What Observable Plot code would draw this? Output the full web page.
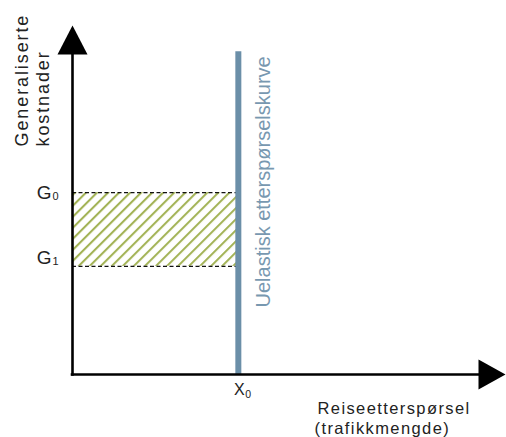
<!DOCTYPE html>
<html>
<head>
<meta charset="utf-8">
<script src="https://cdn.jsdelivr.net/npm/d3@7"></script>
<script src="https://cdn.jsdelivr.net/npm/@observablehq/plot@0.6"></script>
<style>
  html, body { margin: 0; padding: 0; background: #fff; }
  #chart svg { display: block; }
</style>
</head>
<body>
<div id="chart"></div>
<script>
// ---- data (axis units 0..100) ----
const costLabels = ["G", "G"];
const costSubs = ["0", "1"];
const costValues = [52.1, 31.0];        // G0, G1 on the cost axis
const demandLabel = ["X"];
const demandSub = ["0"];
const demandQuantity = [38.3];           // X0 (inelastic demand)
const demandTop = [92.5];                // top end of the demand curve
const axisMax = [100, 100];              // arrow tips of x and y axes
const yTitle = ["Generaliserte", "kostnader"];
const xTitle = ["Reiseetterspørsel", "(trafikkmengde)"];
const curveTitle = ["Uelastisk etterspørselskurve"];

// ---- layout ----
const W = 506, H = 437;
const xDom = [0, 100], xRange = [72, 505];
const yDom = [0, 100], yRange = [374, 25];
const pxX = (xRange[1] - xRange[0]) / (xDom[1] - xDom[0]);
const pxY = (yRange[0] - yRange[1]) / (yDom[1] - yDom[0]);

const X0 = demandQuantity[0];
const [G0, G1] = costValues;
const [xMax, yMax] = axisMax;

// arrow heads (sizes in px converted to data units)
const headLen = 29, headHalf = 15;
const yHead = [
  {x: 0, y: yMax},
  {x: -headHalf / pxX, y: yMax - headLen / pxY},
  {x: headHalf / pxX, y: yMax - headLen / pxY}
];
const xHead = [
  {x: xMax, y: 0},
  {x: xMax - 27 / pxX, y: headHalf / pxY},
  {x: xMax - 27 / pxX, y: -headHalf / pxY}
];

const font = "'Liberation Sans', Arial, Helvetica, sans-serif";
const blue = "#6b8fa8";

const chart = Plot.plot({
  width: W,
  height: H,
  margin: 0,
  style: {fontFamily: font, background: "#fff", overflow: "visible"},
  x: {type: "linear", domain: xDom, range: xRange, axis: null},
  y: {type: "linear", domain: yDom, range: yRange, axis: null},
  marks: [
    // hatched area between G1 and G0
    Plot.rect([{x1: 0, x2: X0, y1: G1, y2: G0}], {
      x1: "x1", x2: "x2", y1: "y1", y2: "y2", fill: "url(#hatch)"
    }),
    // dashed cost levels
    Plot.ruleY(costValues, {
      y: d => d, x1: 0, x2: X0 + 0.6, stroke: "#111",
      strokeWidth: 1.3, strokeDasharray: "4,2.5"
    }),
    // inelastic demand curve
    Plot.ruleX(demandQuantity, {
      x: d => d, y1: 0, y2: demandTop[0], stroke: blue, strokeWidth: 6
    }),
    // axes
    Plot.ruleX([0], {y1: -0.5, y2: yMax - headLen / pxY + 0.5, stroke: "#000", strokeWidth: 2.6}),
    Plot.ruleY([0], {x1: -0.3, x2: xMax - 27 / pxX + 0.5, stroke: "#000", strokeWidth: 2.6}),
    Plot.line(yHead, {x: "x", y: "y", fill: "#000", stroke: "none"}),
    Plot.line(xHead, {x: "x", y: "y", fill: "#000", stroke: "none"}),
    // G labels
    Plot.text([costLabels[0]], {x: 0, y: G0, text: d => d, textAnchor: "end", lineAnchor: "bottom",
      dx: -21, dy: 6, fontSize: 19, fill: "#222"}),
    Plot.text([costSubs[0]], {x: 0, y: G0, text: d => d, textAnchor: "start", lineAnchor: "bottom",
      dx: -20, dy: 7, fontSize: 11, fill: "#222"}),
    Plot.text([costLabels[1]], {x: 0, y: G1, text: d => d, textAnchor: "end", lineAnchor: "bottom",
      dx: -21, dy: -2, fontSize: 19, fill: "#222"}),
    Plot.text([costSubs[1]], {x: 0, y: G1, text: d => d, textAnchor: "start", lineAnchor: "bottom",
      dx: -20, dy: -1, fontSize: 11, fill: "#222"}),
    // X0 label
    Plot.text(demandLabel, {x: X0, y: 0, text: d => d, textAnchor: "middle", lineAnchor: "bottom",
      dx: 1, dy: 20, fontSize: 16, fill: "#222"}),
    Plot.text(demandSub, {x: X0, y: 0, text: d => d, textAnchor: "start", lineAnchor: "bottom",
      dx: 7, dy: 23, fontSize: 10.5, fill: "#222"}),
    // curve title (rotated)
    Plot.text(curveTitle, {x: X0, y: 0, text: d => d, rotate: -90, textAnchor: "start",
      lineAnchor: "bottom", dx: 32, dy: -67, fontSize: 20, fill: "#7898b0"}),
    // y-axis title
    Plot.text([yTitle[0]], {frameAnchor: "top-left", text: d => d, rotate: -90, textAnchor: "start",
      lineAnchor: "bottom", dx: 27, dy: 146, fontSize: 18, fill: "#222"}),
    Plot.text([yTitle[1]], {frameAnchor: "top-left", text: d => d, rotate: -90, textAnchor: "start",
      lineAnchor: "bottom", dx: 48, dy: 146, fontSize: 18, fill: "#222"}),
    // x-axis title
    Plot.text([xTitle[0]], {frameAnchor: "top-left", text: d => d, textAnchor: "start",
      lineAnchor: "bottom", dx: 317, dy: 413, fontSize: 16.5, fill: "#222"}),
    Plot.text([xTitle[1]], {frameAnchor: "top-left", text: d => d, textAnchor: "start",
      lineAnchor: "bottom", dx: 314, dy: 433, fontSize: 16.5, fill: "#222"})
  ]
});

// hatch pattern definition
const svg = d3.select(chart);
const defs = svg.insert("defs", ":first-child");
const pat = defs.append("pattern")
  .attr("id", "hatch")
  .attr("patternUnits", "userSpaceOnUse")
  .attr("width", 7.8)
  .attr("height", 7.8)
  .attr("patternTransform", "rotate(45)");
pat.append("line")
  .attr("x1", 2).attr("y1", -1).attr("x2", 2).attr("y2", 9)
  .attr("stroke", "#a3b356").attr("stroke-width", 2.1);

// letter spacing for the stretched-looking titles
svg.selectAll("text").each(function () {
  const t = this.textContent;
  if (yTitle.includes(t)) this.setAttribute("letter-spacing", "1.9");
  else if (xTitle.includes(t)) this.setAttribute("letter-spacing", "1.4");
});

document.getElementById("chart").appendChild(chart);
</script>
</body>
</html>
